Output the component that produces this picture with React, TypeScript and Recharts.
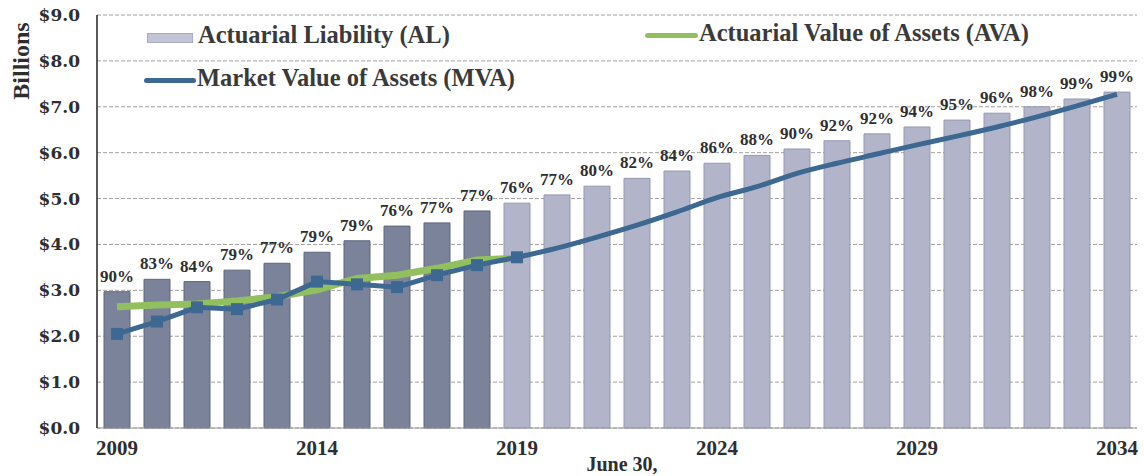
import React from 'react'
import {
	ComposedChart,
	CartesianGrid,
	XAxis,
	YAxis,
	Bar,
	Cell,
	Line,
	LabelList,
} from 'recharts'

const years = [
	'2009', '2010', '2011', '2012', '2013', '2014', '2015', '2016', '2017',
	'2018', '2019', '2020', '2021', '2022', '2023', '2024', '2025', '2026',
	'2027', '2028', '2029', '2030', '2031', '2032', '2033', '2034',
]

// Actuarial Liability, $ billions
const alValues = [
	2.97, 3.24, 3.19, 3.44, 3.59, 3.83, 4.08, 4.4, 4.47, 4.73, 4.9, 5.08, 5.27,
	5.44, 5.6, 5.77, 5.94, 6.08, 6.26, 6.41, 6.56, 6.71, 6.86, 7.0, 7.17, 7.32,
]

// funded ratio shown above each bar
const fundedPct = [
	90, 83, 84, 79, 77, 79, 79, 76, 77, 77, 76, 77, 80, 82, 84, 86, 88, 90, 92,
	92, 94, 95, 96, 98, 99, 99,
]

// Actuarial Value of Assets (history only)
const avaValues = [2.64, 2.68, 2.7, 2.77, 2.86, 3.01, 3.26, 3.33, 3.48, 3.66, 3.7]

// Market Value of Assets (history + projection)
const mvaValues = [
	2.05, 2.32, 2.63, 2.59, 2.8, 3.19, 3.13, 3.07, 3.33, 3.55, 3.72, 3.92, 4.16,
	4.42, 4.71, 5.02, 5.26, 5.55, 5.77, 5.97, 6.17, 6.36, 6.56, 6.78, 7.02, 7.27,
]

const lastActual = 10 // index of 2019
const yTicks = [0, 1, 2, 3, 4, 5, 6, 7, 8, 9]

const data = years.map((year, i) => ({
	year,
	al: alValues[i],
	pct: fundedPct[i],
	ava: i < avaValues.length ? avaValues[i] : null,
	mvaHist: i <= lastActual ? mvaValues[i] : null,
	mvaProj: i >= lastActual ? mvaValues[i] : null,
}))

const FONT = '"Liberation Serif", "Times New Roman", serif'
const WIDE_FONT = '"DejaVu Serif", serif'
const TEXT = '#2e2e2e'
const DARK_BAR = '#7b839b'
const LIGHT_BAR = '#b2b5ca'
const MVA_BLUE = '#3d6892'
const AVA_GREEN = '#92c05e'

const SquareDot = (props: any) => {
	const { cx, cy } = props
	if (cx == null || cy == null) return null
	return <rect x={cx - 6} y={cy - 6} width={12} height={12} fill={MVA_BLUE} />
}

const legendText: React.CSSProperties = {
	position: 'absolute',
	fontFamily: FONT,
	fontWeight: 'bold',
	fontSize: 24.5,
	color: '#3a3a3a',
	whiteSpace: 'nowrap',
	lineHeight: '28px',
}

// legend drawn as an overlay so it does not push the plot down
const ChartLegend = () => (
	<>
		<div
			style={{
				position: 'absolute',
				left: 147,
				top: 33,
				width: 46,
				height: 10,
				background: '#c3c5d6',
				border: '1px solid #a9acbf',
				boxSizing: 'border-box',
			}}
		/>
		<div style={{ ...legendText, left: 198, top: 21 }}>Actuarial Liability (AL)</div>
		<div
			style={{
				position: 'absolute',
				left: 645,
				top: 33,
				width: 53,
				height: 5,
				borderRadius: 3,
				background: AVA_GREEN,
			}}
		/>
		<div style={{ ...legendText, left: 699, top: 19 }}>Actuarial Value of Assets (AVA)</div>
		<div
			style={{
				position: 'absolute',
				left: 144,
				top: 78,
				width: 52,
				height: 5,
				borderRadius: 3,
				background: MVA_BLUE,
			}}
		/>
		<div style={{ ...legendText, left: 197, top: 64 }}>Market Value of Assets (MVA)</div>
	</>
)

const BillionsLabel = () => (
	<text
		x={21}
		y={61}
		transform='rotate(-90 21 61)'
		textAnchor='middle'
		dominantBaseline='central'
		fontFamily={FONT}
		fontWeight='bold'
		fontSize={24}
		fill={TEXT}
	>
		Billions
	</text>
)

const App: React.FC = () => {
	return (
		<div style={{ position: 'absolute', left: 0, top: 0, width: 1144, height: 476, background: '#fff' }}>
			<ComposedChart
				width={1144}
				height={476}
				data={data}
				margin={{ top: 15, right: 7, left: 0, bottom: 0 }}
			>
				<CartesianGrid vertical={false} stroke='#a0a0a0' strokeDasharray='4 2' />
				<XAxis
					dataKey='year'
					interval={4}
					height={48}
					axisLine={{ stroke: '#9a9a9a' }}
					tickLine={false}
					tickMargin={6}
					tick={{ fontFamily: FONT, fontWeight: 'bold', fontSize: 21, fill: TEXT }}
					label={{
						value: 'June 30,',
						position: 'insideBottom',
						offset: 5,
						dx: 5,
						fontFamily: FONT,
						fontWeight: 'bold',
						fontSize: 20,
						fill: TEXT,
					}}
				/>
				<YAxis
					domain={[0, 9]}
					ticks={yTicks}
					width={97}
					axisLine={{ stroke: '#222', strokeWidth: 1.5 }}
					tickLine={false}
					tickMargin={11}
					tickFormatter={(v: number) => `$${v.toFixed(1)}`}
					tick={{ fontFamily: WIDE_FONT, fontWeight: 'bold', fontSize: 17, fill: TEXT }}
					label={<BillionsLabel />}
				/>
				<Bar dataKey='al' barSize={26} isAnimationActive={false}>
					{data.map((_, i) => (
						<Cell
							key={i}
							fill={i < lastActual ? DARK_BAR : LIGHT_BAR}
							stroke={i < lastActual ? '#5f667a' : '#9599b0'}
							strokeWidth={1}
						/>
					))}
					<LabelList
						dataKey='pct'
						position='top'
						offset={10}
						formatter={(v: any) => `${v}%`}
						style={{ fontFamily: FONT, fontWeight: 'bold', fontSize: 17, fill: TEXT }}
					/>
				</Bar>
				<Line
					dataKey='ava'
					type='linear'
					stroke={AVA_GREEN}
					strokeWidth={7}
					dot={false}
					isAnimationActive={false}
				/>
				<Line
					dataKey='mvaHist'
					type='linear'
					stroke={MVA_BLUE}
					strokeWidth={5}
					dot={<SquareDot />}
					isAnimationActive={false}
				/>
				<Line
					dataKey='mvaProj'
					type='monotone'
					stroke={MVA_BLUE}
					strokeWidth={5}
					dot={false}
					isAnimationActive={false}
				/>
			</ComposedChart>
			<ChartLegend />
		</div>
	)
}

export default App
